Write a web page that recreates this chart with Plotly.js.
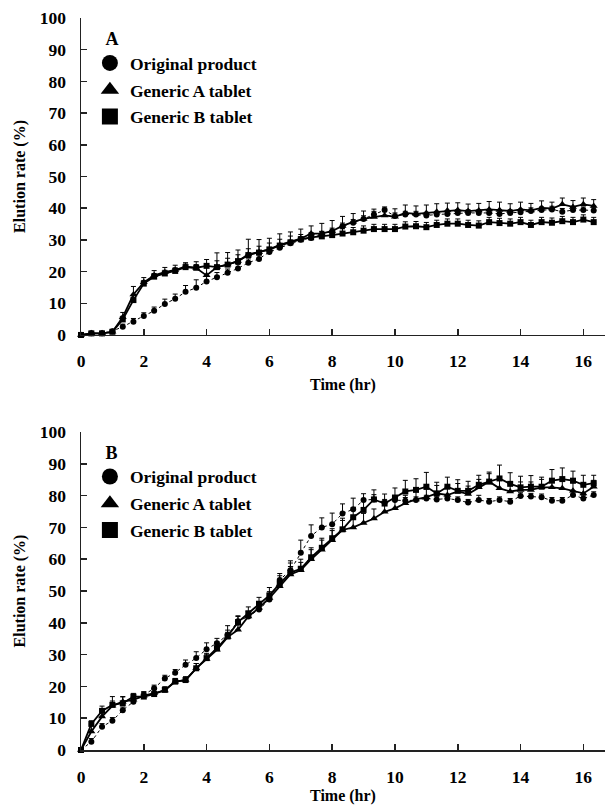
<!DOCTYPE html>
<html>
<head>
<meta charset="utf-8">
<script src="https://cdn.plot.ly/plotly-3.0.1.min.js"></script>
<style>html,body{margin:0;padding:0;background:#fff}#chart{width:605px;height:805px}</style>
</head>
<body>
<div id="chart"></div>
<script>
// Sampling times (hr)
var time = [0,0.33,0.67,1,1.33,1.67,2,2.33,2.67,3,3.33,3.67,4,4.33,4.67,5,5.33,5.67,6,6.33,6.67,7,7.33,7.67,8,8.33,8.67,9,9.33,9.67,10,10.33,10.67,11,11.33,11.67,12,12.33,12.67,13,13.33,13.67,14,14.33,14.67,15,15.33,15.67,16,16.33];

var seriesNames = ["Original product", "Generic A tablet", "Generic B tablet"];
var panelLabels = ["A", "B"];
var xTicks = [0,2,4,6,8,10,12,14,16];
var yTicks = [0,10,20,30,40,50,60,70,80,90,100];

// Panel A – elution rate (%)
var A_orig = [0,0.5,0.5,1.2,2.6,4.2,6.0,7.6,9.8,11.4,13.6,14.9,16.9,18.2,19.6,21.0,22.8,24.0,26.2,27.5,28.9,30.0,30.6,31.7,32.7,34.3,35.4,36.6,38.0,39.4,37.5,38.0,38.0,37.7,38.0,38.2,38.5,38.5,38.5,38.5,38.2,38.5,38.7,39.1,39.4,39.6,38.9,39.4,39.4,39.3];
var A_genA = [0,0.5,0.5,1.0,5.6,12.8,16.6,18.8,19.8,20.5,21.6,21.1,18.8,21.4,22.2,23.3,25.4,26.1,27.0,28.4,29.3,30.4,32.0,32.0,32.8,34.4,35.7,36.6,37.2,37.7,37.3,38.5,38.2,38.5,38.9,39.3,39.4,39.1,39.3,39.6,39.4,39.1,39.6,39.3,40.1,39.9,41.2,40.4,41.2,40.7];
var A_genB = [0,0.5,0.5,1.0,4.9,11.0,16.2,18.4,19.4,20.2,21.4,21.2,21.8,21.4,22.2,23.3,25.2,26.0,27.0,28.2,29.2,30.2,30.8,31.1,31.5,32.0,32.4,32.9,33.4,33.4,33.4,34.2,34.3,34.0,34.7,35.1,35.1,34.7,34.5,35.6,35.3,35.1,35.6,34.7,35.6,35.4,35.9,35.6,36.4,35.6];
var A_origErr = [0,0.5,0.5,0.5,0.8,1.0,1.0,1.2,1.5,1.5,2.0,2.5,1.8,1.5,1.2,1.2,1.2,1.2,1.2,1.2,1.0,1.0,1.0,1.0,1.0,1.0,1.0,1.0,1.0,1.0,1.0,1.0,1.0,1.0,1.0,1.0,1.0,1.0,1.0,1.0,1.0,1.0,1.0,1.0,1.0,1.0,1.0,1.0,1.0,1.0];
var A_genAErr = [0,0.5,0.5,0.5,1.5,2.5,1.5,1.5,1.5,1.5,1.2,2.0,3.2,4.5,3.8,3.5,4.8,4.0,3.5,3.5,3.2,3.0,2.4,3.2,3.3,3.0,2.6,2.5,2.5,2.3,2.5,2.5,2.5,2.5,2.5,2.3,2.3,2.2,2.2,2.5,2.5,2.3,2.3,2.2,2.2,2.0,2.0,2.0,2.0,2.0];
var A_genBErr = [0,0.5,0.5,0.5,1.0,1.5,1.0,1.0,1.0,1.0,1.0,1.0,2.0,2.0,2.0,2.0,2.0,2.0,2.0,2.0,2.0,1.5,1.5,1.5,1.5,1.5,1.5,1.5,1.5,1.5,1.5,1.5,1.5,1.5,1.5,1.5,1.5,1.5,1.5,1.5,1.5,1.5,1.5,1.5,1.5,1.5,1.5,1.5,1.5,1.5];

// Panel B – elution rate (%)
var B_orig = [0,2.6,7.3,9.2,12.5,15.2,17.3,19.4,22.5,24.3,26.8,28.9,31.7,33.6,36.2,40.5,42.0,44.2,47.3,53.5,56.5,62.0,67.3,70.0,71.0,74.4,75.7,78.6,78.8,77.8,78.6,78.4,78.6,79.1,78.8,79.1,78.6,77.8,78.6,78.1,78.6,78.1,79.9,79.7,79.5,78.4,78.4,80.2,79.1,80.2];
var B_genA = [0,5.8,10.5,13.9,15.2,15.8,17.1,17.9,18.7,21.5,22.0,25.7,28.6,31.5,35.5,37.8,42.0,44.7,47.8,51.5,55.2,56.5,60.0,63.0,66.0,69.2,70.0,71.4,72.8,74.9,76.0,77.6,78.8,79.5,80.7,80.2,81.3,80.5,82.6,84.4,82.3,81.3,81.8,81.8,82.6,82.6,82.3,81.5,80.7,82.8];
var B_genB = [0,8.2,12.3,14.2,14.7,16.8,16.8,17.6,18.9,21.5,22.0,25.7,28.9,32.0,35.7,40.2,43.0,46.0,48.6,52.3,55.8,57.0,60.6,63.6,66.6,69.4,73.2,75.5,78.8,77.5,79.4,81.3,81.8,82.8,80.7,82.8,81.5,81.5,83.4,84.4,85.4,83.7,82.6,82.8,82.8,84.7,85.2,84.7,83.4,83.9];
var B_origErr = [0,1,1,1,1,1,1,1,1,1,1.5,2,2,1.5,1.5,1.5,1.5,1.5,2,2,3,4,3.5,3,3.5,3,3.5,2,1.5,1,1,1,1,1,1,1,1,1,1.5,1,1,1,1,1,1,1,1,1,1,1];
var B_genAErr = [0,2,1.5,1.5,1.5,1,1,1,1,1,1,1.5,1.5,1.5,1.5,1.5,1.5,1.5,2,2,2.5,2.5,3,3,3,3,3,3,3,3,2.5,2.5,2.5,2.5,2.5,2.5,2.5,2.5,2.5,2.5,2.5,2.5,2.5,2.5,2.5,2.5,2.5,2.5,2.5,2];
var B_genBErr = [0,1,1.5,2.6,2.1,1,1.5,1.5,1,1,1,1.5,1.5,2,3.4,2,2,2,2.5,2.5,3,3,3,3,3,3.5,3,3,3,3,3,3.5,3.5,4.5,3.5,3,3.5,3,3,3,4.2,3.5,3.5,3.5,3,3.5,3.5,3,3,2.5];

var FONT = "Liberation Serif, Times New Roman, serif";
var symbols = ["circle", "triangle-up", "square"];
var dashes = ["dot", "solid", "solid"];
var widths = [1, 1.8, 1.8];
var msizes = [6, 7, 6];

function zeros(a){ return a.map(function(){ return 0; }); }

function series(x, y, err, k, xa, ya){
  return {
    x: x, y: y, type: "scatter", mode: "lines+markers",
    xaxis: xa, yaxis: ya, showlegend: false, cliponaxis: false,
    line: {color: "#000", width: widths[k], dash: dashes[k]},
    marker: {symbol: symbols[k], size: msizes[k], color: "#000"},
    error_y: {type: "data", symmetric: false, array: err, arrayminus: zeros(err),
              color: "#000", thickness: 1, width: 2.5}
  };
}

function legendItem(k, xa, ya, leg){
  return {
    x: [null], y: [null], type: "scatter", mode: "markers",
    xaxis: xa, yaxis: ya, name: seriesNames[k], legend: leg,
    legendgroup: leg + k, showlegend: true,
    marker: {symbol: symbols[k], size: 16, color: "#000"}
  };
}

var data = [
  series(time, A_orig, A_origErr, 0, "x", "y"),
  series(time, A_genA, A_genAErr, 1, "x", "y"),
  series(time, A_genB, A_genBErr, 2, "x", "y"),
  series(time, B_orig, B_origErr, 0, "x2", "y2"),
  series(time, B_genA, B_genAErr, 1, "x2", "y2"),
  series(time, B_genB, B_genBErr, 2, "x2", "y2"),
  legendItem(0, "x", "y", "legend"),
  legendItem(1, "x", "y", "legend"),
  legendItem(2, "x", "y", "legend"),
  legendItem(0, "x2", "y2", "legend2"),
  legendItem(1, "x2", "y2", "legend2"),
  legendItem(2, "x2", "y2", "legend2")
];

var tickFont = {family: FONT, size: 17.5, color: "#000", weight: "bold"};
var titleFont = {family: FONT, size: 16, color: "#000", weight: "bold"};

function xAxis(anchor){
  return {
    anchor: anchor, domain: [0, 1], range: [0, 16.69],
    tickvals: xTicks, ticktext: xTicks.map(String),
    ticks: "inside", ticklen: 6, tickwidth: 1.5, tickcolor: "#222",
    showline: true, linecolor: "#222", linewidth: 1.5,
    showgrid: false, zeroline: false,
    tickfont: tickFont, ticklabelstandoff: 10,
    title: {text: "Time (hr)", font: titleFont, standoff: 8}
  };
}
function yAxis(anchor, dom){
  return {
    anchor: anchor, domain: dom, range: [0, 100],
    tickvals: yTicks, ticktext: yTicks.map(String),
    ticks: "inside", ticklen: 6, tickwidth: 1.5, tickcolor: "#222",
    showline: true, linecolor: "#222", linewidth: 1.5,
    showgrid: false, zeroline: false,
    tickfont: tickFont, ticklabelstandoff: 10,
    title: {text: "Elution rate (%)", font: titleFont, standoff: 10}
  };
}

function legendBox(yTop, label){
  return {
    x: 0.017, y: yTop, xanchor: "left", yanchor: "top",
    xref: "paper", yref: "paper",
    bgcolor: "rgba(0,0,0,0)", borderwidth: 0,
    font: {family: FONT, size: 17.5, color: "#000", weight: "bold"},
    title: {text: "\u00a0\u00a0\u00a0" + label, side: "top", font: {family: FONT, size: 18, color: "#000", weight: "bold"}},
    itemsizing: "trace", tracegroupgap: 1, itemclick: false
  };
}

var layout = {
  width: 605, height: 805,
  margin: {l: 81, r: 0, t: 18, b: 55},
  paper_bgcolor: "#fff", plot_bgcolor: "#fff",
  showlegend: true,
  xaxis: xAxis("y"),
  yaxis: yAxis("x", [0.567, 1]),
  xaxis2: xAxis("y2"),
  yaxis2: yAxis("x2", [0, 0.4344]),
  legend: legendBox(0.995, panelLabels[0]),
  legend2: legendBox(0.43, panelLabels[1])
};

Plotly.newPlot("chart", data, layout, {displayModeBar: false, staticPlot: true});
</script>
</body>
</html>
